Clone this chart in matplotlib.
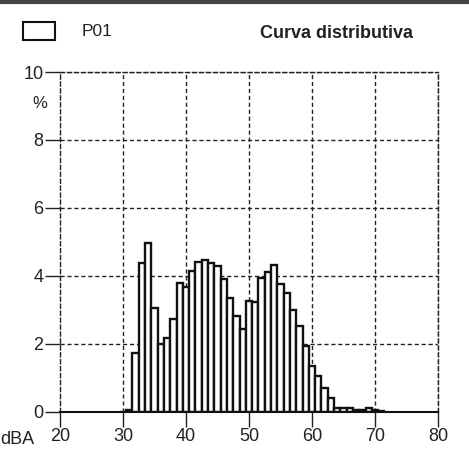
import matplotlib
matplotlib.use("Agg")
import matplotlib.pyplot as plt
from matplotlib.lines import Line2D
from matplotlib.patches import Rectangle

plt.rcParams['font.family'] = ['Liberation Sans', 'DejaVu Sans']

# Data: 1 dB classes (centre values) and percentage of time
levels = list(range(30, 72))
percent = [0.0, 0.03, 1.73, 4.37, 4.95, 3.06, 1.99, 2.17, 2.72, 3.78,
           3.66, 4.15, 4.41, 4.46, 4.36, 4.30, 3.89, 3.33, 2.81, 2.43,
           3.26, 3.22, 3.93, 4.10, 4.32, 3.75, 3.48, 2.99, 2.52, 1.93,
           1.33, 1.05, 0.70, 0.41, 0.11, 0.11, 0.09, 0.05, 0.05, 0.10,
           0.04, 0.02]
xticks = [20, 30, 40, 50, 60, 70, 80]
yticks = [0, 2, 4, 6, 8, 10]

W, H = 469, 457
fig = plt.figure(figsize=(W / 100, H / 100), dpi=100)
ax = fig.add_axes([60 / W, (H - 411.5) / H, 378 / W, 339.5 / H])

ax.bar(levels, percent, width=1.0, color='white', edgecolor='#111111',
       linewidth=1.7, zorder=3)

ax.set_xlim(20, 80)
ax.set_ylim(0, 10)
ax.set_xticks(xticks)
ax.set_yticks(yticks)
ax.tick_params(axis='both', direction='out', length=11, width=1.0,
               labelsize=13, pad=1, color='#222222', labelcolor='#222222')

# dashed grid
for x in xticks[1:]:
    ax.axvline(x, color='#222222', lw=1.0, ls=(0, (3, 2)), zorder=1)
for y in yticks[1:]:
    ax.axhline(y, color='#222222', lw=1.0, ls=(0, (3, 2)), zorder=1)

for s in ['top', 'right', 'left']:
    ax.spines[s].set_linestyle((0, (3, 2)))
    ax.spines[s].set_linewidth(1.0)
    ax.spines[s].set_color('#222222')
ax.spines['bottom'].set_linewidth(1.5)
ax.spines['bottom'].set_color('#111111')
ax.spines['bottom'].set_zorder(4)

# header
fig.add_artist(Line2D([0, 1], [1 - 2 / H, 1 - 2 / H], color='#444444', lw=3.0))
fig.add_artist(Rectangle((23 / W, 1 - 40 / H), 32 / W, 18 / H, fill=False,
                         edgecolor='#111111', lw=1.5))
fig.text(82 / W, 1 - 31 / H, 'P01', fontsize=12.5, ha='left', va='center',
         color='#222222')
fig.text(260 / W, 1 - 33 / H, 'Curva distributiva', fontsize=13,
         fontweight='bold', ha='left', va='center', color='#222222')

fig.text(40 / W, 1 - 103 / H, '%', fontsize=12, ha='center', va='center',
         color='#222222')
fig.text(0.5 / W, 1 - 440 / H, 'dBA', fontsize=13, ha='left', va='center',
         color='#222222')

fig.savefig('out.png', dpi=100)
